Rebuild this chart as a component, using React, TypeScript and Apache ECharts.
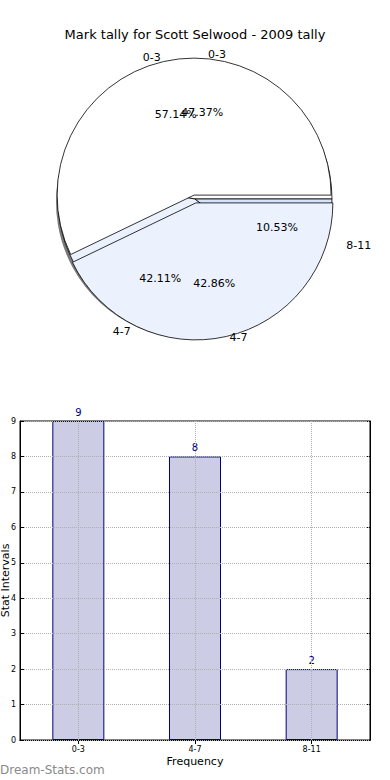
import React, { useEffect, useRef } from 'react';
import * as echarts from 'echarts';

const titleText = 'Mark tally for Scott Selwood - 2009 tally';
const pieACategories = ['0-3', '4-7'];
const pieAValues = [4, 3];
const pieBCategories = ['0-3', '4-7', '8-11'];
const pieBValues = [9, 8, 2];
const barCategories = ['0-3', '4-7', '8-11'];
const barValues = [9, 8, 2];
const yTicks = { min: 0, max: 9, interval: 1 };

const sliceColors: Record<string, string> = {
  '0-3': '#ffffff',
  '4-7': '#ebf1fd',
  '8-11': '#d6e3fb',
};

// per-slice label placement tweaks (style only)
const labelTweakA: Record<string, [number, number]> = { '0-3': [4, 2], '4-7': [1, 3] };
const labelTweakB: Record<string, [number, number]> = { '0-3': [8, 1], '4-7': [8, 6], '8-11': [7, 15] };

const FONT = 'DejaVu Sans';
const PIE_CENTER = [195, 199];
const R = 137;

function sumOf(a: number[]) {
  return a.reduce((s, v) => s + v, 0);
}

export default function App() {
  const ref = useRef<HTMLDivElement>(null);
  useEffect(() => {
    if (!ref.current) return;
    const chart = echarts.init(ref.current, undefined, { renderer: 'svg' });
    const totalA = sumOf(pieAValues);
    const totalB = sumOf(pieBValues);
    const mk = (cats: string[], vals: number[], selected: boolean, tweak: Record<string, [number, number]>) =>
      cats.map((c, i) => ({
        name: c,
        value: vals[i],
        selected,
        itemStyle: { color: sliceColors[c] },
        select: { itemStyle: { color: sliceColors[c] } },
        label: { distanceToLabelLine: tweak[c][1] },
        labelLine: { show: false, length: tweak[c][0], length2: 0 },
      }));
    const pctPie = (cats: string[], vals: number[], total: number, z: number) => ({
      type: 'pie',
      center: PIE_CENTER,
      radius: [0, R * 1.22],
      startAngle: 0,
      clockwise: false,
      silent: true,
      z,
      avoidLabelOverlap: false,
      labelLayout: { hideOverlap: false },
      itemStyle: { color: 'rgba(0,0,0,0)', borderWidth: 0 },
      label: {
        show: true,
        position: 'inside',
        color: '#000',
        fontSize: 11,
        fontFamily: FONT,
        formatter: (p: any) => ((p.value / total) * 100).toFixed(2) + '%',
      },
      labelLine: { show: false },
      emphasis: { disabled: true },
      data: cats.map((c, i) => ({ name: c, value: vals[i] })),
    });
    const namePie = (
      cats: string[],
      vals: number[],
      z: number,
      explode: boolean,
      tweak: Record<string, [number, number]>
    ) => ({
      type: 'pie',
      center: PIE_CENTER,
      radius: [0, R],
      startAngle: 0,
      clockwise: false,
      silent: true,
      z,
      avoidLabelOverlap: false,
      labelLayout: { hideOverlap: false },
      selectedMode: 'multiple',
      selectedOffset: explode ? 4 : 0,
      itemStyle: { borderColor: '#000', borderWidth: 0.8 },
      label: {
        show: true,
        position: 'outside',
        formatter: '{b}',
        color: '#000',
        fontSize: 11,
        fontFamily: FONT,
      },
      labelLine: { show: false, length: 6, length2: 0 },
      emphasis: { disabled: true },
      data: mk(cats, vals, explode, tweak),
    });
    const shadowPie = {
      type: 'pie',
      center: [PIE_CENTER[0] - 2, PIE_CENTER[1] + 3],
      radius: [0, R],
      startAngle: 0,
      clockwise: false,
      silent: true,
      z: 0,
      label: { show: false },
      labelLine: { show: false },
      itemStyle: { color: '#7a7a7a', borderWidth: 0 },
      emphasis: { disabled: true },
      data: pieBCategories.map((c, i) => ({ name: c, value: pieBValues[i] })),
    };

    const option: any = {
      animation: false,
      textStyle: { fontFamily: FONT },
      title: {
        text: titleText,
        left: 'center',
        top: 23,
        textStyle: { fontSize: 13, fontWeight: 'normal', color: '#000', fontFamily: FONT },
      },
      graphic: [
        {
          type: 'text',
          left: 0,
          top: 764,
          style: { text: 'Dream-Stats.com', fill: '#8a8a8a', font: `12px "${FONT}"` },
        },
      ],
      grid: {
        left: 20,
        top: 421,
        width: 350,
        height: 319,
        containLabel: false,
        outerBoundsMode: 'none',
        show: true,
        borderColor: '#000',
        borderWidth: 1,
        backgroundColor: 'rgba(0,0,0,0)',
      },
      xAxis: [
        {
          type: 'category',
          data: barCategories,
          position: 'bottom',
          axisLine: { show: true, lineStyle: { color: '#000' } },
          axisTick: { show: true, inside: true, alignWithLabel: true, length: 4, lineStyle: { color: '#000' } },
          axisLabel: { fontSize: 8, color: '#000', margin: 5, fontFamily: FONT },
          splitLine: { show: false },
          name: 'Frequency',
          nameLocation: 'middle',
          nameGap: 16,
          nameMoveOverlap: false,
          nameTextStyle: { fontSize: 11, color: '#000', fontFamily: FONT },
        },
        {
          type: 'category',
          data: barCategories,
          position: 'top',
          axisLine: { show: true, lineStyle: { color: '#000' } },
          axisTick: { show: true, inside: true, alignWithLabel: true, length: 4, lineStyle: { color: '#000' } },
          axisLabel: { show: false },
          splitLine: { show: false },
        },
      ],
      yAxis: [
        {
          type: 'value',
          min: yTicks.min,
          max: yTicks.max,
          interval: yTicks.interval,
          z: 3,
          axisLine: { show: true, lineStyle: { color: '#000' } },
          axisTick: { show: true, inside: true, length: 4, lineStyle: { color: '#000' } },
          axisLabel: { fontSize: 8, color: '#000', margin: 4, fontFamily: FONT },
          splitLine: { show: true, lineStyle: { color: '#b0b0b0', type: 'dotted', width: 1 } },
          name: 'Stat Intervals',
          nameLocation: 'middle',
          nameRotate: 90,
          nameGap: 9,
          nameMoveOverlap: false,
          nameTextStyle: { fontSize: 11, color: '#000', fontFamily: FONT },
        },
        {
          type: 'value',
          position: 'right',
          min: yTicks.min,
          max: yTicks.max,
          interval: yTicks.interval,
          axisLine: { show: true, lineStyle: { color: '#000' } },
          axisTick: { show: true, inside: true, length: 4, lineStyle: { color: '#000' } },
          axisLabel: { show: false },
          splitLine: { show: false },
        },
      ],
      series: [
        shadowPie,
        namePie(pieBCategories, pieBValues, 1, false, labelTweakB),
        namePie(pieACategories, pieAValues, 2, true, labelTweakA),
        pctPie(pieACategories, pieAValues, totalA, 4),
        pctPie(pieBCategories, pieBValues, totalB, 5),
        {
          type: 'bar',
          xAxisIndex: 0,
          yAxisIndex: 0,
          data: barValues,
          barWidth: 52,
          silent: true,
          itemStyle: { color: '#ccccE5', borderColor: '#000080', borderWidth: 1 },
          label: { show: true, position: 'top', color: '#000080', fontSize: 10, distance: 4, fontFamily: FONT },
          emphasis: { disabled: true },
          markLine: {
            silent: true,
            symbol: ['none', 'none'],
            label: { show: false },
            lineStyle: { color: '#b0b0b0', type: 'dotted', width: 1 },
            emphasis: { disabled: true },
            data: barCategories.map((c) => ({ xAxis: c })),
          },
        },
      ],
    };
    chart.setOption(option);
    return () => chart.dispose();
  }, []);
  return (
    <div
      ref={ref}
      style={{ position: 'fixed', left: 0, top: 0, width: 390, height: 780, background: '#fff' }}
    />
  );
}
